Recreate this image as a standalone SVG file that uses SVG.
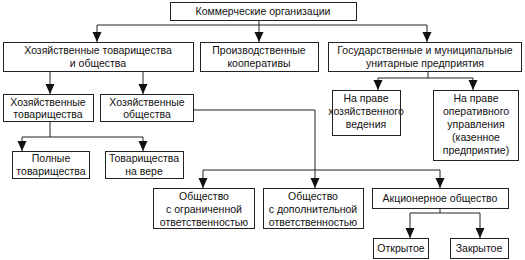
<svg xmlns="http://www.w3.org/2000/svg" width="525" height="260" viewBox="0 0 525 260">
<style>
.box{fill:#fff;stroke:#222;stroke-width:1}
.t{font-family:"Liberation Sans",Arial,sans-serif;font-size:10.5px;fill:#111;text-anchor:middle}
.c{fill:none;stroke:#222;stroke-width:1}
.a{marker-end:url(#ah)}
</style>
<defs>
<marker id="ah" markerUnits="userSpaceOnUse" markerWidth="10" markerHeight="10" refX="10" refY="4.5" orient="auto">
<path d="M0,0 L10,4.5 L0,9 z" fill="#111"/>
</marker>
</defs>
<rect width="525" height="260" fill="#fff"/>
<g id="connectors">
<path class="c a" d="M259,20 V42"/>
<path class="c" d="M97,25 H427"/>
<path class="c a" d="M97,25 V42"/>
<path class="c a" d="M427,25 V42"/>
<path class="c a" d="M50,71 V94"/>
<path class="c a" d="M143,71 V94"/>
<path class="c" d="M50,121 V137 M22,137 H143"/>
<path class="c a" d="M22,137 V151"/>
<path class="c a" d="M143,137 V151"/>
<path class="c" d="M428,71 V78 M378,78 H473"/>
<path class="c a" d="M378,78 V90"/>
<path class="c a" d="M473,78 V90"/>
<path class="c a" d="M193,110 H315 V188"/>
<path class="c" d="M203,170 H440"/>
<path class="c a" d="M203,170 V188"/>
<path class="c a" d="M440,170 V188"/>
<path class="c" d="M440,208 V213 M410,213 H480"/>
<path class="c a" d="M410,213 V238"/>
<path class="c a" d="M480,213 V238"/>
</g>
<g id="n-root"><rect class="box" x="170.5" y="2.5" width="186" height="18"/><text class="t" x="263" y="15">Коммерческие организации</text></g>
<g id="n-hto"><rect class="box" x="3.5" y="42.5" width="190" height="29"/><text class="t" x="98" y="54">Хозяйственные товарищества</text><text class="t" x="98" y="67">и общества</text></g>
<g id="n-pk"><rect class="box" x="200.5" y="42.5" width="118" height="29"/><text class="t" x="259" y="54">Производственные</text><text class="t" x="259" y="67">кооперативы</text></g>
<g id="n-gmup"><rect class="box" x="328.5" y="42.5" width="193" height="29"/><text class="t" x="425" y="54">Государственные и муниципальные</text><text class="t" x="425" y="67">унитарные предприятия</text></g>
<g id="n-ht"><rect class="box" x="3.5" y="94.5" width="90" height="27"/><text class="t" x="48" y="106">Хозяйственные</text><text class="t" x="48" y="118">товарищества</text></g>
<g id="n-ho"><rect class="box" x="100.5" y="94.5" width="93" height="27"/><text class="t" x="147" y="106">Хозяйственные</text><text class="t" x="147" y="118">общества</text></g>
<g id="n-pt"><rect class="box" x="12.5" y="151.5" width="77" height="27"/><text class="t" x="51" y="162">Полные</text><text class="t" x="51" y="175">товарищества</text></g>
<g id="n-tv"><rect class="box" x="105.5" y="151.5" width="78" height="27"/><text class="t" x="144" y="162">Товарищества</text><text class="t" x="144" y="175">на вере</text></g>
<g id="n-hv"><rect class="box" x="332.5" y="90.5" width="68" height="45"/><text class="t" x="366" y="102">На праве</text><text class="t" x="366" y="115">хозяйственного</text><text class="t" x="366" y="128">ведения</text></g>
<g id="n-ou"><rect class="box" x="433.5" y="90.5" width="85" height="70"/><text class="t" x="476" y="102">На праве</text><text class="t" x="476" y="115">оперативного</text><text class="t" x="476" y="128">управления</text><text class="t" x="476" y="141">(казенное</text><text class="t" x="476" y="154">предприятие)</text></g>
<g id="n-ooo"><rect class="box" x="153.5" y="188.5" width="101" height="40"/><text class="t" x="204" y="200">Общество</text><text class="t" x="204" y="213">с ограниченной</text><text class="t" x="204" y="226">ответственностью</text></g>
<g id="n-odo"><rect class="box" x="263.5" y="188.5" width="100" height="40"/><text class="t" x="313" y="200">Общество</text><text class="t" x="313" y="213">с дополнительной</text><text class="t" x="313" y="226">ответственностью</text></g>
<g id="n-ao"><rect class="box" x="372.5" y="188.5" width="136" height="20"/><text class="t" x="440" y="202">Акционерное общество</text></g>
<g id="n-open"><rect class="box" x="373.5" y="238.5" width="55" height="20"/><text class="t" x="401" y="252">Открытое</text></g>
<g id="n-closed"><rect class="box" x="450.5" y="238.5" width="58" height="20"/><text class="t" x="479" y="252">Закрытое</text></g>
</svg>
